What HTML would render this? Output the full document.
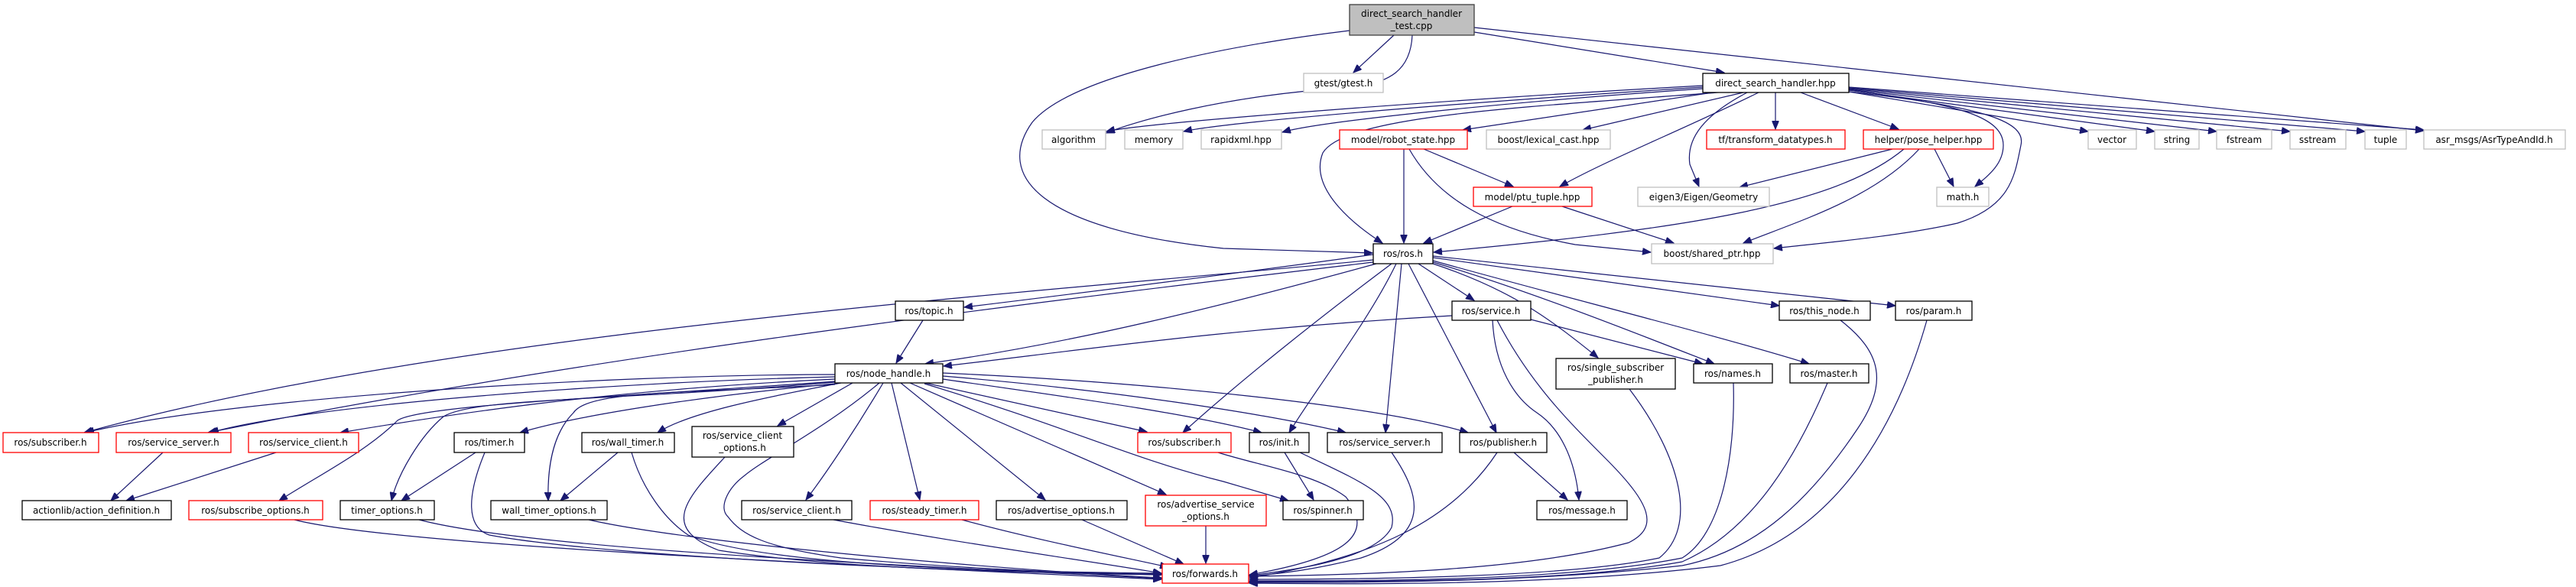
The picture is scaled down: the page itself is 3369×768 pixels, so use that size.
<!DOCTYPE html>
<html><head><meta charset="utf-8"><style>
html,body{margin:0;padding:0;background:#fff;}
svg{display:block;}
text{font-family:"DejaVu Sans","Liberation Sans",sans-serif;font-size:12px;fill:#000;text-anchor:middle;}
.e{fill:none;stroke:#191970;stroke-width:1.2;marker-end:url(#a);}
.k{fill:#fff;stroke:#000;stroke-width:1.3;}
.r{fill:#fff;stroke:#ff0000;stroke-width:1.3;}
.g{fill:#fff;stroke:#bfbfbf;stroke-width:1.3;}
</style></head><body>
<svg width="3369" height="768" viewBox="0 0 3369 768" xmlns="http://www.w3.org/2000/svg">
<defs><marker id="a" markerUnits="userSpaceOnUse" markerWidth="12" markerHeight="9" refX="11" refY="4.5" orient="auto"><path d="M0,0 L11,4.5 L0,9 z" fill="#191970" stroke="#191970"/></marker></defs>
<g>
<path class="e" d="M1823,46 L1770,95"/>
<path class="e" d="M1847,46 C1845,90 1820,110 1760,115 C1600,125 1480,160 1447,174"/>
<path class="e" d="M1765,40 C1600,60 1400,100 1350,160 C1300,230 1360,300 1600,325 L1795,331"/>
<path class="e" d="M1928,42 L2255,95"/>
<path class="e" d="M1928,36 L3170,171"/>
<path class="e" d="M2227,112 C1900,130 1500,160 1447,172"/>
<path class="e" d="M2227,114 C1900,135 1600,160 1548,172"/>
<path class="e" d="M2227,116 C1950,135 1720,160 1677,173"/>
<path class="e" d="M2260,120 C2000,140 1760,150 1730,200 C1710,250 1780,300 1808,318"/>
<path class="e" d="M2240,121 L1913,170"/>
<path class="e" d="M2280,121 L2070,170"/>
<path class="e" d="M2300,121 C2200,170 2100,210 2040,244"/>
<path class="e" d="M2285,121 C2230,150 2205,180 2210,215 L2222,244"/>
<path class="e" d="M2322,121 L2322,169"/>
<path class="e" d="M2355,121 L2483,169"/>
<path class="e" d="M2418,118 C2550,135 2620,150 2620,190 C2620,215 2600,230 2583,244"/>
<path class="e" d="M2418,120 C2600,140 2650,160 2643,190 C2635,230 2630,270 2560,292 C2480,310 2380,318 2320,325"/>
<path class="e" d="M2418,120 L2731,172"/>
<path class="e" d="M2418,118 L2818,172"/>
<path class="e" d="M2418,117 L2899,172"/>
<path class="e" d="M2418,116 L2995,172"/>
<path class="e" d="M2418,115 L3093,172"/>
<path class="e" d="M2418,114 L3170,170"/>
<path class="e" d="M1836,195 L1836,318"/>
<path class="e" d="M1862,195 L1979,244"/>
<path class="e" d="M1843,195 C1880,260 1950,300 2060,320 L2159,330"/>
<path class="e" d="M2475,195 L2275,245"/>
<path class="e" d="M2530,195 L2555,244"/>
<path class="e" d="M2490,195 C2400,270 2200,300 1875,330"/>
<path class="e" d="M2510,195 C2450,260 2350,290 2280,318"/>
<path class="e" d="M1978,270 L1862,318"/>
<path class="e" d="M2043,270 L2189,318"/>
<path class="e" d="M1796,340 C1400,380 600,430 110,566"/>
<path class="e" d="M1796,343 C1400,390 800,460 272,566"/>
<path class="e" d="M1796,333 C1600,360 1400,385 1261,402"/>
<path class="e" d="M1800,345 C1600,400 1400,450 1210,476"/>
<path class="e" d="M1855,345 L1928,393"/>
<path class="e" d="M1874,345 C1980,380 2030,420 2090,468"/>
<path class="e" d="M1874,343 C2000,380 2150,440 2242,476"/>
<path class="e" d="M1874,341 C2050,390 2250,440 2366,476"/>
<path class="e" d="M1874,337 L2327,400"/>
<path class="e" d="M1874,335 L2479,400"/>
<path class="e" d="M1820,345 C1720,420 1620,500 1547,566"/>
<path class="e" d="M1826,345 C1790,420 1720,510 1686,566"/>
<path class="e" d="M1833,345 L1812,566"/>
<path class="e" d="M1842,345 L1957,566"/>
<path class="e" d="M1899,413 C1600,430 1400,460 1234,479"/>
<path class="e" d="M2002,418 L2227,476"/>
<path class="e" d="M1952,419 C1955,480 1980,520 2010,540 C2040,560 2060,600 2065,654"/>
<path class="e" d="M1958,419 C2000,500 2050,550 2100,600 C2160,660 2170,690 2130,710 C2000,745 1800,752 1634,754"/>
<path class="e" d="M1207,419 L1172,475"/>
<path class="e" d="M1092,490 C800,490 300,520 112,566"/>
<path class="e" d="M1092,493 C800,500 400,530 275,566"/>
<path class="e" d="M1092,496 C800,510 600,540 445,566"/>
<path class="e" d="M1092,499 C800,520 550,530 520,550 C480,590 420,620 365,655"/>
<path class="e" d="M1092,500 C800,525 620,520 580,545 C550,570 520,620 512,655"/>
<path class="e" d="M1092,502 C900,520 750,545 680,566"/>
<path class="e" d="M1092,503 C900,515 770,510 750,540 C720,570 716,620 717,655"/>
<path class="e" d="M1100,501 C1000,520 900,540 860,566"/>
<path class="e" d="M1115,501 L1017,557"/>
<path class="e" d="M1155,501 C1120,560 1080,620 1054,654"/>
<path class="e" d="M1166,501 L1203,654"/>
<path class="e" d="M1178,501 L1367,654"/>
<path class="e" d="M1190,501 L1525,647"/>
<path class="e" d="M1210,501 L1500,565"/>
<path class="e" d="M1233,496 C1400,520 1550,540 1650,566"/>
<path class="e" d="M1233,492 C1450,510 1650,540 1760,566"/>
<path class="e" d="M1233,488 C1500,500 1800,530 1920,566"/>
<path class="e" d="M1209,502 C1400,560 1480,600 1600,630 L1685,655"/>
<path class="e" d="M1150,501 C1080,560 1000,600 974,622 C950,640 940,665 952,676 C970,700 1000,716 1100,730 C1300,748 1450,750 1519,752"/>
<path class="e" d="M213,592 L145,655"/>
<path class="e" d="M361,592 L165,655"/>
<path class="e" d="M622,592 L525,655"/>
<path class="e" d="M634,592 C610,650 610,690 640,700 C800,730 1300,750 1519,752"/>
<path class="e" d="M808,592 L733,655"/>
<path class="e" d="M826,592 C840,640 870,680 900,700 C1000,740 1300,748 1519,750"/>
<path class="e" d="M948,598 C900,650 860,690 940,720 C1100,745 1350,750 1519,751"/>
<path class="e" d="M385,680 C500,710 1000,735 1519,758"/>
<path class="e" d="M548,680 C700,720 1200,740 1519,757"/>
<path class="e" d="M770,680 C900,710 1300,745 1519,756"/>
<path class="e" d="M1090,680 C1250,710 1400,730 1519,750"/>
<path class="e" d="M1258,680 C1350,705 1450,725 1528,742"/>
<path class="e" d="M1415,680 L1548,738"/>
<path class="e" d="M1577,688 L1577,737"/>
<path class="e" d="M1593,592 C1650,610 1720,620 1760,650 C1800,700 1760,730 1634,752"/>
<path class="e" d="M1680,592 L1718,654"/>
<path class="e" d="M1700,592 C1780,630 1830,650 1820,690 C1800,730 1700,745 1634,753"/>
<path class="e" d="M1820,592 C1860,650 1870,700 1780,730 C1720,745 1680,750 1634,754"/>
<path class="e" d="M1980,592 L2050,654"/>
<path class="e" d="M1958,592 C1900,680 1800,730 1634,756"/>
<path class="e" d="M2131,509 C2200,600 2220,690 2170,730 C2050,755 1800,758 1634,758"/>
<path class="e" d="M2267,501 C2270,600 2250,700 2200,730 C2050,760 1800,760 1634,760"/>
<path class="e" d="M2390,501 C2340,620 2280,700 2200,735 C2050,762 1800,761 1634,761"/>
<path class="e" d="M2407,419 C2460,460 2470,500 2430,560 C2370,650 2300,720 2200,740 C2000,762 1800,762 1634,762"/>
<path class="e" d="M2520,419 C2480,560 2400,700 2250,740 C2050,765 1800,765 1634,763"/>
</g>
<g>
<rect x="1765" y="6" width="163" height="40" fill="#bfbfbf" stroke="#404040" stroke-width="1.3"/>
<text x="1846" y="22">direct_search_handler</text><text x="1846" y="38">_test.cpp</text>
<rect class="g" x="1705" y="96" width="104" height="25"/><text x="1757" y="113">gtest/gtest.h</text>
<rect class="k" x="2227" y="96" width="191" height="25"/><text x="2322" y="113">direct_search_handler.hpp</text>
<rect class="g" x="1363" y="170" width="83" height="25"/><text x="1404" y="187">algorithm</text>
<rect class="g" x="1471" y="170" width="76" height="25"/><text x="1509" y="187">memory</text>
<rect class="g" x="1571" y="170" width="105" height="25"/><text x="1623" y="187">rapidxml.hpp</text>
<rect class="r" x="1752" y="170" width="167" height="25"/><text x="1835" y="187">model/robot_state.hpp</text>
<rect class="g" x="1944" y="170" width="162" height="25"/><text x="2025" y="187">boost/lexical_cast.hpp</text>
<rect class="r" x="2232" y="170" width="181" height="25"/><text x="2322" y="187">tf/transform_datatypes.h</text>
<rect class="r" x="2437" y="170" width="170" height="25"/><text x="2522" y="187">helper/pose_helper.hpp</text>
<rect class="g" x="2731" y="170" width="63" height="25"/><text x="2762" y="187">vector</text>
<rect class="g" x="2818" y="170" width="58" height="25"/><text x="2847" y="187">string</text>
<rect class="g" x="2899" y="170" width="72" height="25"/><text x="2935" y="187">fstream</text>
<rect class="g" x="2995" y="170" width="73" height="25"/><text x="3031" y="187">sstream</text>
<rect class="g" x="3093" y="170" width="54" height="25"/><text x="3120" y="187">tuple</text>
<rect class="g" x="3170" y="170" width="185" height="25"/><text x="3262" y="187">asr_msgs/AsrTypeAndId.h</text>
<rect class="r" x="1927" y="245" width="155" height="25"/><text x="2004" y="262">model/ptu_tuple.hpp</text>
<rect class="g" x="2142" y="245" width="172" height="25"/><text x="2228" y="262">eigen3/Eigen/Geometry</text>
<rect class="g" x="2533" y="245" width="68" height="25"/><text x="2567" y="262">math.h</text>
<rect class="k" x="1796" y="319" width="78" height="26"/><text x="1835" y="336">ros/ros.h</text>
<rect class="g" x="2160" y="319" width="159" height="26"/><text x="2239" y="336">boost/shared_ptr.hpp</text>
<rect class="k" x="1171" y="394" width="89" height="25"/><text x="1215" y="411">ros/topic.h</text>
<rect class="k" x="1899" y="394" width="103" height="25"/><text x="1950" y="411">ros/service.h</text>
<rect class="k" x="2327" y="394" width="119" height="25"/><text x="2386" y="411">ros/this_node.h</text>
<rect class="k" x="2479" y="394" width="100" height="25"/><text x="2529" y="411">ros/param.h</text>
<rect class="k" x="1092" y="476" width="141" height="25"/><text x="1162" y="493">ros/node_handle.h</text>
<rect class="k" x="2035" y="469" width="156" height="40"/><text x="2113" y="485">ros/single_subscriber</text><text x="2113" y="501">_publisher.h</text>
<rect class="k" x="2215" y="476" width="103" height="25"/><text x="2266" y="493">ros/names.h</text>
<rect class="k" x="2341" y="476" width="103" height="25"/><text x="2392" y="493">ros/master.h</text>
<rect class="r" x="4" y="566" width="125" height="26"/><text x="66" y="583">ros/subscriber.h</text>
<rect class="r" x="152" y="566" width="150" height="26"/><text x="227" y="583">ros/service_server.h</text>
<rect class="r" x="325" y="566" width="144" height="26"/><text x="397" y="583">ros/service_client.h</text>
<rect class="k" x="594" y="566" width="92" height="26"/><text x="640" y="583">ros/timer.h</text>
<rect class="k" x="761" y="566" width="121" height="26"/><text x="821" y="583">ros/wall_timer.h</text>
<rect class="k" x="905" y="558" width="133" height="40"/><text x="971" y="574">ros/service_client</text><text x="971" y="590">_options.h</text>
<rect class="r" x="1488" y="566" width="122" height="26"/><text x="1549" y="583">ros/subscriber.h</text>
<rect class="k" x="1634" y="566" width="78" height="26"/><text x="1673" y="583">ros/init.h</text>
<rect class="k" x="1736" y="566" width="150" height="26"/><text x="1811" y="583">ros/service_server.h</text>
<rect class="k" x="1909" y="566" width="114" height="26"/><text x="1966" y="583">ros/publisher.h</text>
<rect class="k" x="29" y="655" width="195" height="25"/><text x="126" y="672">actionlib/action_definition.h</text>
<rect class="r" x="247" y="655" width="175" height="25"/><text x="334" y="672">ros/subscribe_options.h</text>
<rect class="k" x="445" y="655" width="123" height="25"/><text x="506" y="672">timer_options.h</text>
<rect class="k" x="642" y="655" width="152" height="25"/><text x="718" y="672">wall_timer_options.h</text>
<rect class="k" x="970" y="655" width="144" height="25"/><text x="1042" y="672">ros/service_client.h</text>
<rect class="r" x="1138" y="655" width="142" height="25"/><text x="1209" y="672">ros/steady_timer.h</text>
<rect class="k" x="1303" y="655" width="171" height="25"/><text x="1388" y="672">ros/advertise_options.h</text>
<rect class="r" x="1498" y="648" width="158" height="40"/><text x="1577" y="664">ros/advertise_service</text><text x="1577" y="680">_options.h</text>
<rect class="k" x="1678" y="655" width="105" height="25"/><text x="1730" y="672">ros/spinner.h</text>
<rect class="k" x="2010" y="655" width="118" height="25"/><text x="2069" y="672">ros/message.h</text>
<rect class="r" x="1520" y="738" width="113" height="25"/><text x="1576" y="755">ros/forwards.h</text>
</g>
</svg>
</body></html>
